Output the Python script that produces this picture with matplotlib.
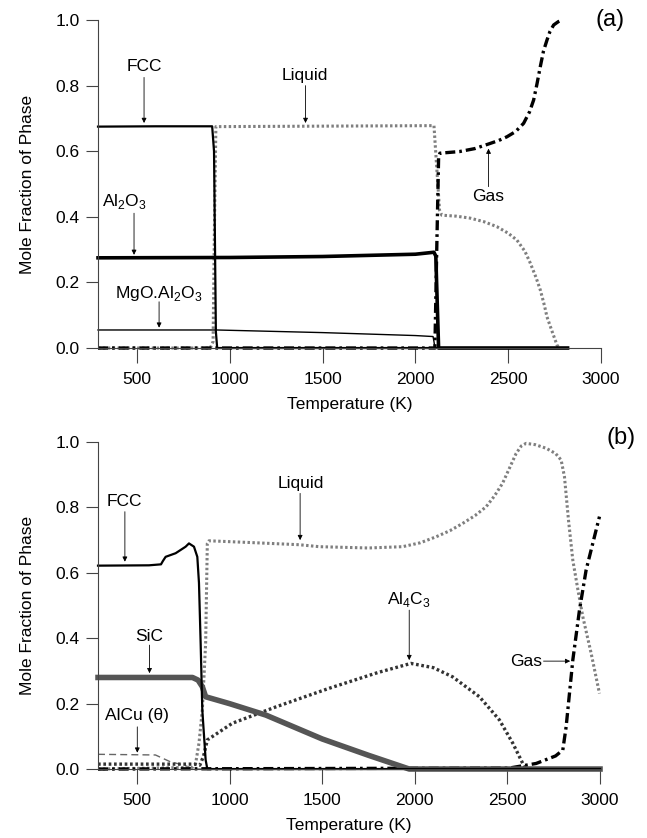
import matplotlib
matplotlib.use('Agg')
import matplotlib.pyplot as plt

plt.rcParams['font.family'] = 'Liberation Sans'
plt.rcParams['mathtext.fontset'] = 'custom'
plt.rcParams['mathtext.rm'] = 'Liberation Sans'
plt.rcParams['font.size'] = 12.5

# ---- panel (a) data: temperature (K) vs mole fraction ----
fcc_a_T = [290, 600, 905, 915, 925, 932, 2820]
fcc_a_y = [0.675, 0.676, 0.676, 0.60, 0.05, 0.0, 0.0]

liq_a_T = [290, 895, 910, 918, 925, 2100, 2115, 2130, 2142, 2220, 2295, 2370, 2439, 2500, 2547, 2590, 2619,
           2650, 2673, 2695, 2709, 2740, 2763, 2775]
liq_a_y = [0.0, 0.0, 0.02, 0.40, 0.675, 0.678, 0.55, 0.42, 0.405, 0.402, 0.396, 0.385, 0.370, 0.350, 0.329, 0.295, 0.259,
           0.215, 0.177, 0.130, 0.095, 0.045, 0.009, 0.0]

al2o3_a_T = [290, 1000, 1500, 2000, 2100, 2110, 2125, 2820]
al2o3_a_y = [0.275, 0.276, 0.279, 0.286, 0.292, 0.28, 0.0, 0.0]

mgo_a_T = [290, 930, 1500, 2000, 2095, 2100, 2105]
mgo_a_y = [0.055, 0.055, 0.047, 0.038, 0.035, 0.02, 0.0]

gas_a_T = [290, 2105, 2115, 2125, 2132, 2238, 2320, 2394, 2450, 2493, 2540, 2583, 2615, 2637, 2655, 2673, 2690,
           2709, 2725, 2745, 2770, 2790]
gas_a_y = [0.0, 0.0, 0.30, 0.58, 0.594, 0.599, 0.608, 0.622, 0.633, 0.644, 0.660, 0.685, 0.720, 0.756, 0.805, 0.858, 0.905,
           0.939, 0.965, 0.985, 0.995, 1.0]

# ---- panel (b) data ----
fcc_b_T = [290, 565, 630, 640, 655, 709, 763, 781, 808, 826, 835, 844, 853, 871, 880, 3000]
fcc_b_y = [0.622, 0.623, 0.626, 0.636, 0.649, 0.660, 0.680, 0.690, 0.680, 0.649, 0.569, 0.385, 0.180, 0.028, 0.0, 0.0]

liq_b_T = [290, 800, 817, 835, 853, 871, 880, 889, 1100, 1376, 1484, 1750, 1934, 2030, 2114, 2190, 2258, 2325, 2385,
           2430, 2474, 2515, 2547, 2575, 2601, 2650, 2709, 2760, 2790, 2808, 2830, 2853, 2880, 2907, 2952, 2997]
liq_b_y = [0.0, 0.005, 0.017, 0.079, 0.18, 0.385, 0.69, 0.698, 0.693, 0.686, 0.680, 0.676, 0.680, 0.692, 0.710, 0.729, 0.751,
           0.775, 0.802, 0.835, 0.874, 0.925, 0.965, 0.988, 0.996, 0.992, 0.981, 0.965, 0.945, 0.894, 0.760, 0.639, 0.550,
           0.466, 0.354, 0.231]

sic_b_T = [290, 800, 830, 853, 871, 1000, 1196, 1500, 1750, 1970, 3000]
sic_b_y = [0.280, 0.280, 0.272, 0.252, 0.221, 0.200, 0.165, 0.092, 0.042, 0.0, 0.0]

al4c3_b_T = [290, 810, 840, 860, 880, 1015, 1250, 1538, 1800, 1979, 2100, 2204, 2349, 2457, 2529, 2583, 2600, 3000]
al4c3_b_y = [0.015, 0.015, 0.012, 0.04, 0.089, 0.140, 0.190, 0.247, 0.295, 0.323, 0.310, 0.282, 0.221, 0.150, 0.079,
             0.017, 0.0, 0.0]

alcu_b_T = [290, 600, 681, 754, 806, 2000]
alcu_b_y = [0.045, 0.043, 0.022, 0.012, 0.0, 0.0]

gas_b_T = [290, 2510, 2655, 2760, 2799, 2817, 2853, 2889, 2925, 2997]
gas_b_y = [0.0, 0.003, 0.017, 0.040, 0.058, 0.129, 0.333, 0.486, 0.609, 0.772]

DOT = (0, (0.8, 0.8))
DASHDOT = (0, (3, 1.2, 0.8, 1.2))

fig = plt.figure(figsize=(6.47, 8.38), dpi=100)
ax_a = fig.add_axes([0.1515, 0.5847, 0.7774, 0.3914])
ax_b = fig.add_axes([0.1515, 0.0823, 0.7759, 0.3902])


def style_axis(ax):
    ax.set_xlim(290, 3000)
    ax.set_ylim(0, 1.0)
    ax.spines['top'].set_visible(False)
    ax.spines['right'].set_visible(False)
    ax.spines['left'].set_color('#444444')
    ax.spines['bottom'].set_color('#444444')
    ax.set_xticks([500, 1000, 1500, 2000, 2500, 3000])
    ax.set_yticks([0.0, 0.2, 0.4, 0.6, 0.8, 1.0])
    ax.set_yticklabels(['0.0', '0.2', '0.4', '0.6', '0.8', '1.0'])
    ax.tick_params(axis='both', labelsize=12.5)
    ax.tick_params(axis='x', direction='out', length=11, width=0.8, pad=6, color='#444444')
    ax.tick_params(axis='y', direction='out', length=9, width=0.8, pad=4, color='#444444')
    ax.set_xlabel('Temperature (K)')
    ax.set_ylabel('Mole Fraction of Phase')
    ax.xaxis.set_label_coords(0.5, -0.15)
    ax.yaxis.set_label_coords(-0.125, 0.5)


def arrow(ax, x0, y0, x1, y1):
    ax.annotate('', xy=(x1, y1), xytext=(x0, y0),
                arrowprops=dict(arrowstyle='-|>', lw=0.6, color='black',
                                mutation_scale=7, shrinkA=0, shrinkB=0))


# panel (a)
ax = ax_a
ax.plot(liq_a_T, liq_a_y, color='#7f7f7f', lw=2.2, ls=DOT, clip_on=False)
ax.plot(gas_a_T, gas_a_y, color='black', lw=2.4, ls=DASHDOT, clip_on=False)
ax.plot(fcc_a_T, fcc_a_y, color='black', lw=1.6, clip_on=False)
ax.plot(al2o3_a_T, al2o3_a_y, color='black', lw=2.6, clip_on=False)
ax.plot(mgo_a_T, mgo_a_y, color='black', lw=1.0, clip_on=False)
style_axis(ax)

ax.text(538, 0.857, 'FCC', ha='center', va='center')
arrow(ax, 538, 0.825, 538, 0.686)
ax.text(1403, 0.832, 'Liquid', ha='center', va='center')
arrow(ax, 1408, 0.80, 1408, 0.686)
ax.text(430, 0.446, r'Al$_\mathregular{2}$O$_\mathregular{3}$', ha='center', va='center')
arrow(ax, 484, 0.411, 484, 0.284)
ax.text(615, 0.167, r'MgO.Al$_\mathregular{2}$O$_\mathregular{3}$', ha='center', va='center')
arrow(ax, 619, 0.141, 619, 0.062)
ax.text(2394, 0.461, 'Gas', ha='center', va='center')
arrow(ax, 2394, 0.492, 2394, 0.608)
ax.text(3051, 1.0, '(a)', ha='center', va='center', fontsize=17)

# panel (b)
ax = ax_b
ax.plot(alcu_b_T, alcu_b_y, color='#666666', lw=1.0, ls=(0, (5, 3)), clip_on=False)
ax.plot(liq_b_T, liq_b_y, color='#7f7f7f', lw=2.2, ls=DOT, clip_on=False)
ax.plot(al4c3_b_T, al4c3_b_y, color='#333333', lw=2.4, ls=DOT, clip_on=False)
ax.plot(gas_b_T, gas_b_y, color='black', lw=2.4, ls=DASHDOT, clip_on=False)
ax.plot(sic_b_T, sic_b_y, color='#555555', lw=4.0, clip_on=False)
ax.plot(fcc_b_T, fcc_b_y, color='black', lw=1.6, clip_on=False)
style_axis(ax)

ax.text(430, 0.818, 'FCC', ha='center', va='center')
arrow(ax, 435, 0.787, 435, 0.634)
ax.text(1385, 0.874, 'Liquid', ha='center', va='center')
arrow(ax, 1381, 0.843, 1381, 0.700)
ax.text(568, 0.405, 'SiC', ha='center', va='center')
arrow(ax, 568, 0.379, 568, 0.293)
ax.text(502, 0.165, u'AlCu (\u03b8)', ha='center', va='center')
arrow(ax, 502, 0.129, 502, 0.050)
ax.text(1970, 0.517, r'Al$_\mathregular{4}$C$_\mathregular{3}$', ha='center', va='center')
arrow(ax, 1970, 0.486, 1970, 0.333)
ax.text(2601, 0.328, 'Gas', ha='center', va='center')
arrow(ax, 2695, 0.330, 2839, 0.330)
ax.text(3114, 1.011, '(b)', ha='center', va='center', fontsize=17)

fig.savefig('out.png', dpi=100)
